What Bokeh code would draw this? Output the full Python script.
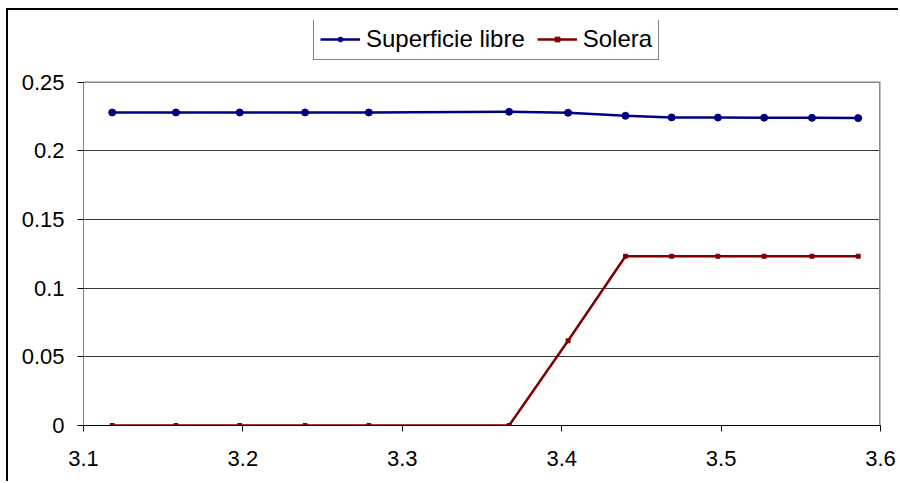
from bokeh.plotting import figure
from bokeh.models import Legend, LegendItem, FixedTicker, Range1d
from bokeh.embed import file_html
from bokeh.resources import INLINE

# Station along the channel (x) and the two profiles
x_pos = [3.118, 3.158, 3.198, 3.239, 3.279, 3.367, 3.404, 3.440, 3.469, 3.498, 3.527, 3.557, 3.586]
superficie_libre = [0.2280, 0.2280, 0.2280, 0.2280, 0.2280, 0.2285, 0.2278, 0.2256, 0.2244, 0.2243, 0.2242, 0.2241, 0.2239]
solera = [0.0, 0.0, 0.0, 0.0, 0.0, 0.0, 0.0617, 0.1233, 0.1233, 0.1233, 0.1233, 0.1233, 0.1233]
series_names = ["Superficie libre", "Solera"]

x_ticks = [3.1, 3.2, 3.3, 3.4, 3.5, 3.6]
x_tick_labels = ["3.1", "3.2", "3.3", "3.4", "3.5", "3.6"]
y_ticks = [0, 0.05, 0.1, 0.15, 0.2, 0.25]
y_tick_labels = ["0", "0.05", "0.1", "0.15", "0.2", "0.25"]

FONT = "Liberation Sans"
X_MIN, X_MAX = x_ticks[0], x_ticks[-1]
Y_MIN, Y_MAX = y_ticks[0], y_ticks[-1]
# headroom above the plot area that holds the legend
Y_TOP = 0.295

p = figure(
    width=892, height=473,
    x_range=Range1d(X_MIN, X_MAX), y_range=Range1d(Y_MIN, Y_TOP),
    output_backend="svg", toolbar_location=None,
    min_border_left=75, min_border_right=20, min_border_top=10, min_border_bottom=58,
)
p.styles = {
    "margin-left": "6px", "margin-top": "8px",
    "border-left": "2px solid #000000", "border-top": "2px solid #000000",
}
p.background_fill_color = "white"
p.border_fill_color = "white"
p.outline_line_color = None

# grid
p.xgrid.grid_line_color = None
p.ygrid.grid_line_color = "#3a3a3a"
p.ygrid.grid_line_width = 1

# axes
p.xaxis.ticker = FixedTicker(ticks=x_ticks)
p.yaxis.ticker = FixedTicker(ticks=y_ticks)
p.xaxis.major_label_overrides = dict(zip(x_ticks, x_tick_labels))
p.yaxis.major_label_overrides = dict(zip(y_ticks, y_tick_labels))
for ax in (p.xaxis[0], p.yaxis[0]):
    ax.axis_line_color = "black"
    ax.axis_line_width = 1
    ax.major_tick_line_color = "black"
    ax.major_tick_out = 6
    ax.major_tick_in = 0
    ax.minor_tick_line_color = None
    ax.major_label_text_font = FONT
    ax.major_label_text_font_size = "22px"
    ax.major_label_text_color = "black"
p.yaxis.axis_line_color = None
p.xaxis.major_label_standoff = 19
p.yaxis.major_label_standoff = 13

# plot-area border: gray top and right, black value axis on the left
p.segment(x0=[X_MIN, X_MAX], y0=[Y_MAX, Y_MIN], x1=[X_MAX, X_MAX], y1=[Y_MAX, Y_MAX],
          line_color="#888888", line_width=[1.5, 3])
p.segment(x0=[X_MIN], y0=[Y_MIN], x1=[X_MIN], y1=[Y_MAX], line_color="black", line_width=1)

# series
l1 = p.line(x_pos, superficie_libre, line_color="#000080", line_width=2.5)
m1 = p.scatter(x_pos, superficie_libre, marker="circle", size=7, fill_color="#000080", line_color="#000080")
l2 = p.line(x_pos, solera, line_color="#800000", line_width=2.5)
m2 = p.scatter(x_pos, solera, marker="square", size=4, fill_color="#800000", line_color="#800000")

legend = Legend(
    items=[
        LegendItem(label=series_names[0], renderers=[l1, m1]),
        LegendItem(label=series_names[1], renderers=[l2, m2]),
    ],
    orientation="horizontal",
    location=(230, 365),
    glyph_width=40, glyph_height=12,
    label_height=24, label_standoff=6,
    spacing=12, padding=6, margin=0,
    label_text_font=FONT, label_text_font_size="24px", label_text_color="black",
    border_line_color="black", border_line_width=1,
    background_fill_color="white", background_fill_alpha=1,
)
p.add_layout(legend)

open("out.html", "w").write(file_html(p, INLINE))
